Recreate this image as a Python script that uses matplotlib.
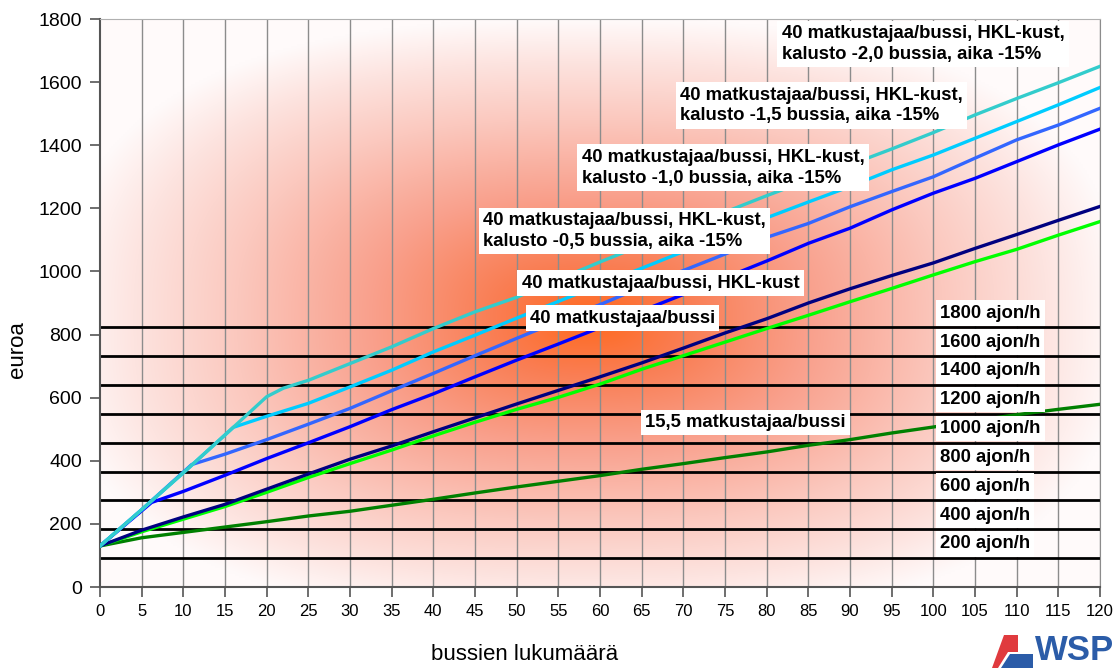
import matplotlib
matplotlib.use("Agg")
import matplotlib.pyplot as plt
import numpy as np
from matplotlib.patches import Polygon

plt.rcParams['font.family'] = ['Liberation Sans', 'DejaVu Sans']

# --- data ---
bus_x = list(range(0, 121, 5))

# 15,5 matkustajaa/bussi
y_155 = [130, 156, 173, 190, 207, 225, 240, 259, 278, 298, 317, 335, 353,
         373, 391, 410, 428, 449, 467, 488, 507, 527, 546, 563, 579]
# 40 matkustajaa/bussi
y_40 = [130, 175, 215, 255, 300, 347, 391, 434, 479, 522, 563, 601, 643,
        690, 733, 776, 819, 861, 904, 946, 989, 1031, 1070, 1115, 1158]
# 40 matkustajaa/bussi, HKL-kust
y_hkl = [130, 180, 222, 262, 310, 358, 405, 447, 492, 536, 580, 623, 666,
         710, 757, 805, 850, 900, 945, 987, 1027, 1073, 1117, 1162, 1206]

# kalusto -0,5 bussia
x_k05 = [0, 6.2] + list(range(10, 121, 5))
y_k05 = [130, 268, 303, 354, 407, 457, 508, 562, 612, 666, 719, 770, 822,
         875, 927, 980, 1033, 1089, 1137, 1195, 1248, 1295, 1348, 1401, 1451]
# kalusto -1,0 bussia
x_k10 = [0, 5, 11] + list(range(15, 121, 5))
y_k10 = [130, 245, 388, 421, 467, 516, 566, 622, 677, 733, 788, 842, 895,
         950, 1003, 1055, 1108, 1152, 1205, 1253, 1300, 1359, 1417, 1464, 1517]
# kalusto -1,5 bussia
x_k15 = [0, 5, 10, 16] + list(range(20, 121, 5))
y_k15 = [130, 245, 362, 506, 541, 582, 634, 687, 745, 798, 852, 905, 958,
         1010, 1063, 1115, 1170, 1220, 1269, 1322, 1369, 1422, 1475, 1528, 1583]
# kalusto -2,0 bussia
x_k20 = [0, 5, 10, 15, 20, 22] + list(range(25, 121, 5))
y_k20 = [130, 245, 362, 482, 603, 630, 655, 708, 761, 819, 872, 918, 975,
         1030, 1083, 1136, 1188, 1240, 1290, 1338, 1388, 1440, 1496, 1548,
         1598, 1650]

# horizontal reference lines (ajon/h)
ajon = [200, 400, 600, 800, 1000, 1200, 1400, 1600, 1800]
ajon_euro = [92, 183, 275, 366, 457, 549, 640, 731, 823]

fig = plt.figure(figsize=(11.2, 6.68), dpi=100)
ax = fig.add_axes([100 / 1120, 81 / 668, 1000 / 1120, 568 / 668])

# background: gradient from the centre, orange -> white
W, H = 500, 284
gx, gy = np.meshgrid(np.linspace(0, 1, W), np.linspace(0, 1, H))
dx = (gx - 0.49) / 0.52
dy = (gy - 0.53) / 0.52
r = (np.abs(dx) ** 2.6 + np.abs(dy) ** 2.6) ** (1 / 2.6)
stops = [0, 0.18, 0.42, 0.68, 0.88, 1.02]
cols = np.array([[255, 105, 30], [250, 125, 82], [249, 160, 140],
                 [251, 200, 190], [253, 228, 224], [255, 250, 250]]) / 255
img = np.dstack([np.interp(r, stops, cols[:, i]) for i in range(3)])
ax.imshow(img, extent=[0, 120, 0, 1800], origin='upper', aspect='auto',
          zorder=0, interpolation='bilinear')

ax.set_xlim(0, 120)
ax.set_ylim(0, 1800)
ax.set_xticks(bus_x)
ax.set_yticks(range(0, 1801, 200))
for xv in bus_x[1:]:
    ax.axvline(xv, color='#8c8c8c', lw=1, zorder=1)

ax.hlines(ajon_euro, 0, 120, color='black', lw=2, zorder=2)

ax.plot(bus_x, y_155, color='#008000', lw=2.4, zorder=3)
ax.plot(bus_x, y_40, color='#00ff00', lw=2.4, zorder=3)
ax.plot(bus_x, y_hkl, color='#000080', lw=2.4, zorder=3)
ax.plot(x_k05, y_k05, color='#0000ff', lw=2.4, zorder=3)
ax.plot(x_k10, y_k10, color='#3366ff', lw=2.4, zorder=3)
ax.plot(x_k15, y_k15, color='#00ccff', lw=2.4, zorder=3)
ax.plot(x_k20, y_k20, color='#33cccc', lw=2.4, zorder=3)

box = dict(facecolor='white', edgecolor='none', pad=3)
lab = dict(fontsize=13.3, fontweight='bold', va='center', ha='left',
           zorder=5, bbox=box, linespacing=1.3)
ax.text(81.8, 1721, '40 matkustajaa/bussi, HKL-kust,\nkalusto -2,0 bussia, aika -15%', **lab)
ax.text(69.6, 1526, '40 matkustajaa/bussi, HKL-kust,\nkalusto -1,5 bussia, aika -15%', **lab)
ax.text(57.8, 1329, '40 matkustajaa/bussi, HKL-kust,\nkalusto -1,0 bussia, aika -15%', **lab)
ax.text(46.0, 1128, '40 matkustajaa/bussi, HKL-kust,\nkalusto -0,5 bussia, aika -15%', **lab)
ax.text(50.6, 963, '40 matkustajaa/bussi, HKL-kust', **lab)
ax.text(51.6, 852, '40 matkustajaa/bussi', **lab)
ax.text(65.4, 522, '15,5 matkustajaa/bussi', **lab)
for a, e in zip(ajon, ajon_euro):
    ax.text(100.8, e + 45, f'{a} ajon/h', **lab)

for side in ['left', 'bottom']:
    ax.spines[side].set_color('#555555')
    ax.spines[side].set_linewidth(1.5)
ax.spines['top'].set_color('#b0b0b0')
ax.spines['right'].set_color('#8c8c8c')
ax.tick_params(direction='out', length=7, width=1.2, color='#555555')
ax.tick_params(axis='y', labelsize=14, pad=6)
ax.tick_params(axis='x', labelsize=12, pad=5)

fig.text(17 / 1120, 1 - 350 / 668, 'euroa', rotation=90, ha='center',
         va='center', fontsize=16)
fig.text(525 / 1120, 1 - 655 / 668, 'bussien lukumäärä', ha='center',
         va='center', fontsize=16)


# WSP logo
def fpts(pts):
    return [(x / 1120, 1 - y / 668) for x, y in pts]


fig.patches.append(Polygon(fpts([(1004, 635), (1018, 635), (1018, 652),
                                 (1008, 652), (998, 668), (992, 668)]),
                           closed=True, facecolor='#e03a3e', edgecolor='none',
                           transform=fig.transFigure))
fig.patches.append(Polygon(fpts([(1010, 654), (1033, 654), (1033, 668),
                                 (1001, 668)]),
                           closed=True, facecolor='#2b5ca8', edgecolor='none',
                           transform=fig.transFigure))
fig.text(1035 / 1120, 1 - 650 / 668, 'WSP', fontsize=25, fontweight='bold',
         color='#2b5ca8', ha='left', va='center')

fig.savefig('out.png', dpi=100)
